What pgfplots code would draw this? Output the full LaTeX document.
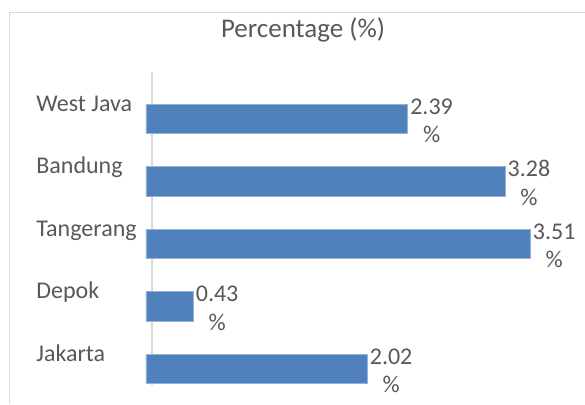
\documentclass[border=0pt]{standalone}
\usepackage{pgfplots}
\pgfplotsset{compat=1.18}
\usepackage{fontspec}
\setmainfont{Carlito}
\definecolor{barblue}{HTML}{4F81BD}
\definecolor{txt}{HTML}{595959}
\definecolor{gridgray}{HTML}{D9D9D9}
\begin{document}
\begin{tikzpicture}
\useasboundingbox (0,0) rectangle (292.5pt,202pt);
\fill[white] (0,0) rectangle (292.5pt,202pt);
\draw[gridgray, line width=0.6pt] (4.65pt,0) -- (4.65pt,195.9pt) -- (292.5pt,195.9pt);
\begin{axis}[
 at={(73pt,2pt)}, anchor=south west,
 scale only axis, width=209pt, height=156.25pt,
 xmin=0, xmax=3.82, ymin=-0.5, ymax=4.5,
 clip=false,
 axis line style={draw=none},
 xtick=\empty,
 ytick={0,1,2,3,4},
 yticklabels={Jakarta,Depok,Tangerang,Bandung,West Java},
 major tick length=0pt,
 yticklabel style={anchor=base west, inner sep=0pt, xshift=-55pt, yshift=3.75pt, font=\fontsize{12}{14}\selectfont, text=txt},
 title={Percentage (\%)},
 every axis title shift=0pt,
 title style={at={(0.3756,1.1606)}, anchor=base, yshift=0pt, font=\fontsize{13.5}{15}\selectfont, text=txt},
]
\addplot[gridgray, line width=0.6pt, forget plot] coordinates {(0.055,-0.26) (0.055,4.75)};
\addplot[xbar, bar width=14.75pt, fill=barblue, draw=barblue!60!white, line width=0.4pt,
 point meta=explicit symbolic,
 nodes near coords={\pgfplotspointmeta\\\%},
 every node near coord/.append style={anchor=base west, align=center, inner sep=0pt, xshift=1.2pt, yshift=-12pt, font=\fontsize{12}{14.25}\selectfont, text=txt}]
 coordinates {(2.02,0) [2.02] (0.43,1) [0.43] (3.51,2) [3.51] (3.28,3) [3.28] (2.39,4) [2.39]};
\end{axis}
\end{tikzpicture}
\end{document}
